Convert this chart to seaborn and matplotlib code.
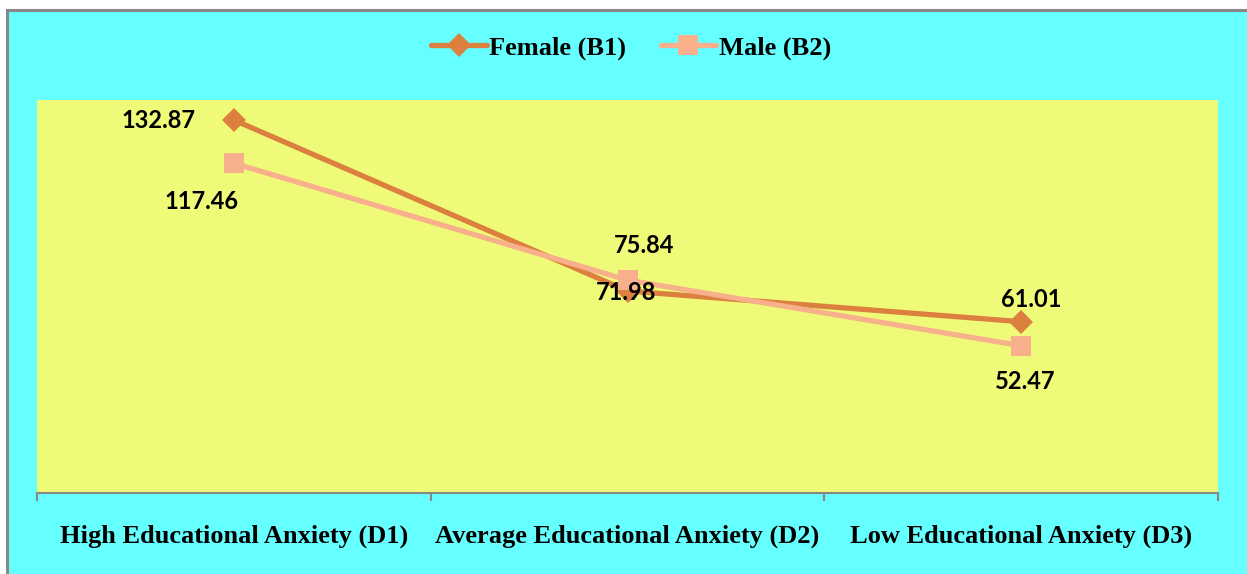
import matplotlib
matplotlib.use("Agg")
import matplotlib.pyplot as plt
import matplotlib.patches as mpatches
import seaborn as sns
import pandas as pd

categories = ["High Educational Anxiety (D1)", "Average Educational Anxiety (D2)", "Low Educational Anxiety (D3)"]
female = [132.87, 71.98, 61.01]
male = [117.46, 75.84, 52.47]
series_names = ["Female (B1)", "Male (B2)"]

df = pd.DataFrame({
    "cat": categories * 2,
    "val": female + male,
    "series": [series_names[0]] * 3 + [series_names[1]] * 3,
})

sns.set_theme(style="white")
plt.rcParams["text.color"] = "black"
plt.rcParams["xtick.color"] = "black"
plt.rcParams["xtick.labelcolor"] = "black"
W, H = 1247, 574
fig = plt.figure(figsize=(W / 100, H / 100), dpi=100)
fig.patch.set_facecolor("white")
fig.patches.append(mpatches.Rectangle((7 / W, -0.05), 1.1, (H - 10) / H + 0.05,
                                      transform=fig.transFigure, facecolor="#66FFFF",
                                      edgecolor="#888888", linewidth=2.2, zorder=-10))

ax = fig.add_axes([37 / W, (H - 493) / H, (1218 - 37) / W, (493 - 100) / H])
ax.set_facecolor("#EFFA78")

colors = {"Female (B1)": "#DB803E", "Male (B2)": "#F8B08C"}
sns.lineplot(data=df, x="cat", y="val", hue="series", style="series",
             markers={"Female (B1)": "D", "Male (B2)": "s"}, dashes=False,
             palette=colors, linewidth=3.8, markersize=12, markeredgewidth=0,
             ax=ax, sort=False)
for line in ax.lines:
    if line.get_marker() == "s":
        line.set_markersize(14)

ax.set_xlim(-0.5, 2.5)
ax.set_ylim(0, 140)
ax.set_yticks([])
ax.set_xlabel("")
ax.set_ylabel("")
for s in ["top", "left", "right"]:
    ax.spines[s].set_visible(False)
ax.spines["bottom"].set_color("#888888")
ax.spines["bottom"].set_linewidth(1.5)

ax.set_xticks([0, 1, 2])
ax.set_xticklabels(categories, fontfamily="Liberation Serif", fontweight="bold", fontsize=19,
                   color="black")
ax.tick_params(axis="x", which="major", length=0, pad=23)
ax.set_xticks([-0.5, 0.5, 1.5, 2.5], minor=True)
ax.tick_params(axis="x", which="minor", length=6, width=1.5, color="#888888", bottom=True)

label_font = dict(fontfamily="Lato", fontweight="bold", fontsize=17, color="black")
offsets_f = [(-75, 0), (-1, -2), (10, 22)]
offsets_m = [(-32, -38), (17, 35), (4, -36)]
for i in range(3):
    ax.annotate(f"{female[i]:.2f}", (i, female[i]), xytext=offsets_f[i],
                textcoords="offset pixels", ha="center", va="center", **label_font)
    ax.annotate(f"{male[i]:.2f}", (i, male[i]), xytext=offsets_m[i],
                textcoords="offset pixels", ha="center", va="center", **label_font)

leg = ax.legend(loc="center", bbox_to_anchor=(0.506, (H - 48) / H), bbox_transform=fig.transFigure,
                ncol=2, frameon=False, handlelength=2.1, columnspacing=1.3, handletextpad=0.1,
                prop={"family": "Liberation Serif", "weight": "bold", "size": 19})
leg.set_title(None)
for t in leg.get_texts():
    t.set_color("black")

fig.savefig("out.png", dpi=100, facecolor=fig.get_facecolor())
